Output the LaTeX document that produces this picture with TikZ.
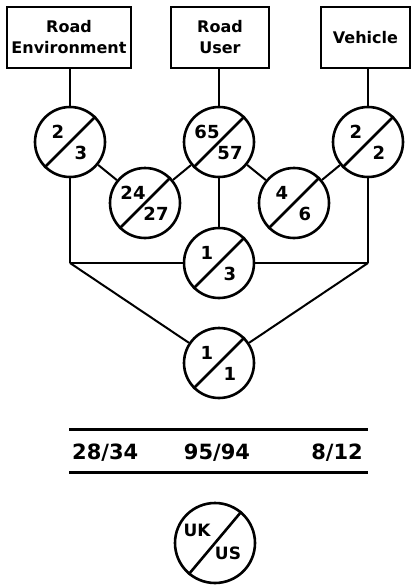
\documentclass[tikz,border=0pt]{standalone}
\usepackage{fontspec}
\setmainfont{DejaVu Sans}
\usetikzlibrary{arrows.meta,shapes,calc,positioning}

\begin{document}
\begin{tikzpicture}[x=1pt, y=-1pt, every node/.style={font=\bfseries}]
  % Define dimensions
  \def\R{70pt}
  \def\Lw{2.6pt}
  \def\Tw{2pt}
  \tikzset{
    factor/.style={draw, line width=2.8pt, minimum width=#1, minimum height=61pt,
                   align=center, inner sep=0pt, font=\fontsize{16}{21}\selectfont\bfseries},
    ratio/.style={circle, draw, line width=\Lw, minimum size=\R, inner sep=0pt},
    num/.style={inner sep=0pt, font=\fontsize{18}{18}\selectfont\bfseries},
    tab/.style={inner sep=0pt, font=\fontsize{21}{21}\selectfont\bfseries},
    link/.style={line width=\Tw}
  }
  \useasboundingbox (0,0) rectangle (419,586);

  % Draw boxes
  \node[factor=124pt] (env) at (69,37.5) {Road\\Environment};
  \node[factor=98pt] (user) at (220,37.5) {Road\\User};
  \node[factor=89pt] (veh) at (365.5,37.5) {Vehicle};

  % Draw circles
  \foreach \nm/\x/\y/\a/\b in {re/70/142/2/3, ru/219/142/65/57, ve/368/142/2/2,
                               reru/145/203/24/27, ruve/294/203/4/6,
                               all3/219/263/1/3, all1/219/363/1/1} {
      \node[ratio] (\nm) at (\x,\y) {};
      \draw[line width=\Lw] (\nm.225) -- (\nm.45);
      \node[num] (\nm-a) at ($(\nm)+(-12,-10)$) {\a};
      \node[num] (\nm-b) at ($(\nm)+(11,11)$) {\b};
  }

  % Define points
  \coordinate (L) at (70,263);
  \coordinate (Rt) at (368,263);

  % Draw links
  \draw[link] (re |- env.south) -- (re.north);
  \draw[link] (ru |- user.south) -- (ru.north);
  \draw[link] (ve |- veh.south) -- (ve.north);
  \draw[link] (re) -- (reru);
  \draw[link] (reru) -- (ru);
  \draw[link] (ru) -- (ruve);
  \draw[link] (ruve) -- (ve);
  \draw[link] (ru) -- (all3);
  \draw[link] (re) -- (L);
  \draw[link] (ve) -- (Rt);
  \draw[link] (L) -- (all3);
  \draw[link] (all3) -- (Rt);
  \draw[link] (L) -- (all1);
  \draw[link] (Rt) -- (all1);

  % Totals
  \coordinate (t1) at (69,429);
  \coordinate (t2) at (368,429);
  \coordinate (b1) at (69,472);
  \coordinate (b2) at (368,472);
  \draw[line width=3pt] (t1) -- (t2);
  \draw[line width=3pt] (b1) -- (b2);
  \node[tab, anchor=base west] (tot-env) at (72,459) {28/34};
  \node[tab, anchor=base] (tot-user) at (217,459) {95/94};
  \node[tab, anchor=base east] (tot-veh) at (363,459) {8/12};

  % Key
  \node[ratio, minimum size=80pt] (key) at (215,543) {};
  \draw[line width=\Lw] (key.230) -- (key.50);
  \node[num, font=\fontsize{17}{17}\selectfont\bfseries] (key-a) at ($(key)+(-18,-13)$) {UK};
  \node[num, font=\fontsize{17}{17}\selectfont\bfseries] (key-b) at ($(key)+(13,10)$) {US};
\end{tikzpicture}
\end{document}
